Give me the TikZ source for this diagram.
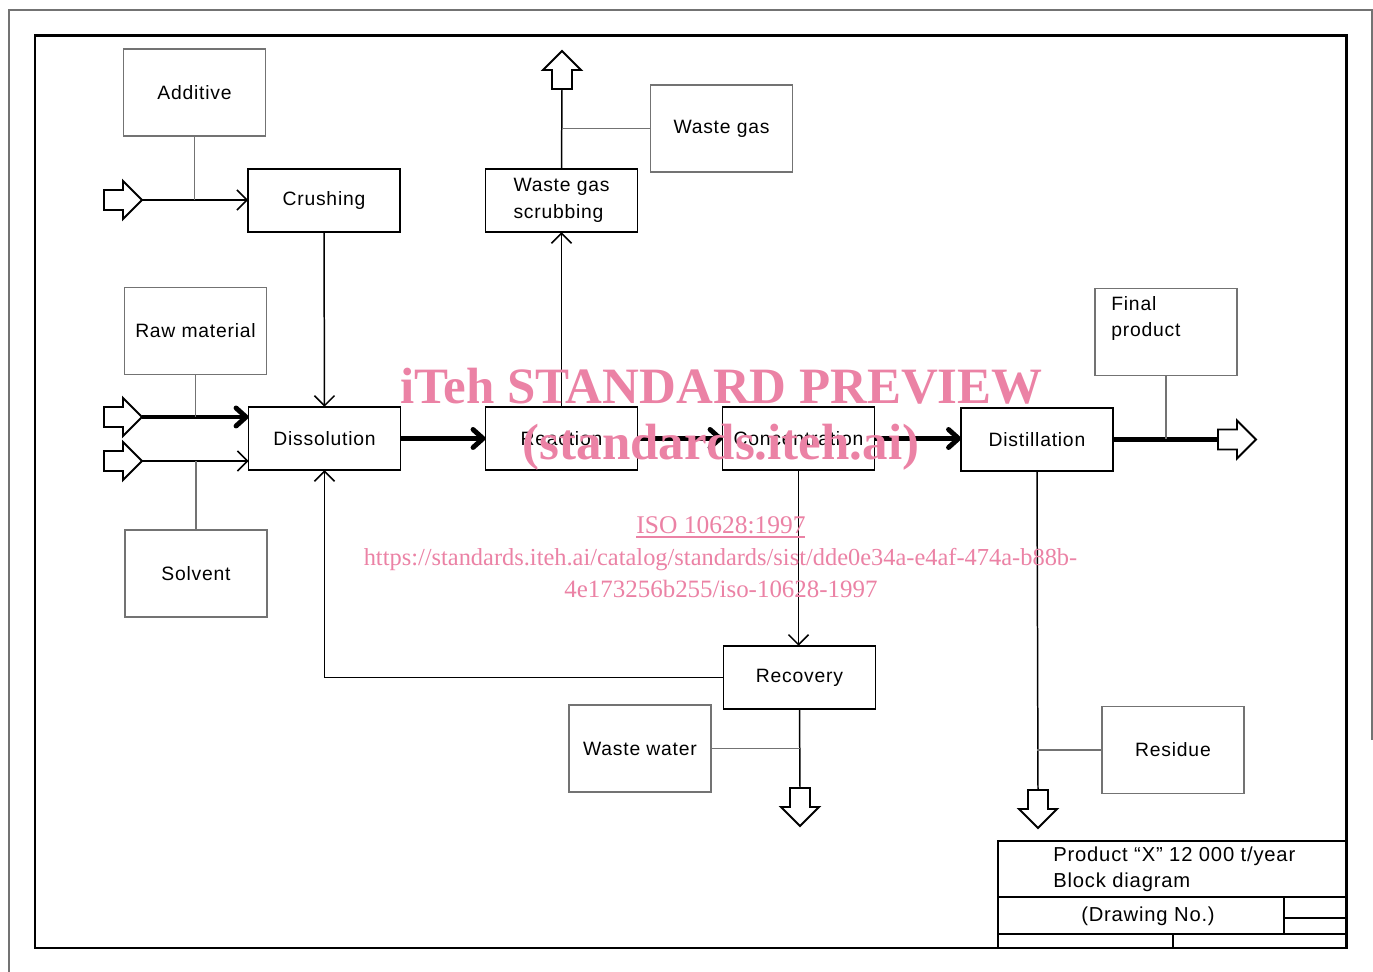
\documentclass[tikz,border=0pt]{standalone}
\usepackage{fontspec}
\setmainfont{Liberation Sans}
\newfontfamily\isof[LetterSpace=4]{Liberation Sans}
\newfontfamily\wmf{Liberation Serif}
\usetikzlibrary{arrows.meta}
\definecolor{wmpink}{RGB}{235,130,165}
\tikzset{
  pbox/.style={draw=black, line width=1.1pt, minimum width=3.04cm, minimum height=1.27cm, inner sep=0pt, outer sep=0pt, font=\isof\fontsize{11}{15}\selectfont},
  lbox/.style={draw=black!55, line width=0.6pt, minimum width=2.84cm, minimum height=1.74cm, inner sep=0pt, outer sep=0pt, font=\isof\fontsize{11}{15}\selectfont},
  txt/.style={inner sep=0pt, font=\isof\fontsize{11}{15}\selectfont},
  thinln/.style={line width=0.85pt},
  grayln/.style={draw=black!55, line width=0.6pt},
  thickln/.style={line width=2.8pt},
  arr/.style={-{Straight Barb[length=2mm, width=4mm]}},
  arrT/.style={-{Straight Barb[length=2mm, width=3.6mm, line cap=round, line join=round]}},
  blockarr/.pic={\draw[line width=1.1pt, line join=miter] (0,-10) -- (19,-10) -- (19,-19) -- (38,0) -- (19,19) -- (19,10) -- (0,10) -- cycle;},
  wm/.style={text=wmpink, inner sep=0pt}
}
\begin{document}
\begin{tikzpicture}[x=0.02cm, y=-0.02cm]
\useasboundingbox (0,0) rectangle (1373,972);
% frames
\draw[black!55, line width=0.6pt] (9,972) -- (9,10) -- (1372,10) -- (1372,740);
\draw[line width=1.7pt] (35,36) rectangle (1346,948);
% title block
\draw[line width=1.3pt] (998,948) -- (998,841) -- (1346,841);
\draw[line width=0.8pt] (998,897) -- (1346,897);
\draw[line width=0.8pt] (998,934) -- (1346,934);
\draw[line width=0.8pt] (1284,897) -- (1284,934);
\draw[line width=0.6pt] (1284,918) -- (1346,918);
\draw[line width=0.8pt] (1173,934) -- (1173,948);
\node[txt, anchor=base west, font=\isof\fontsize{11.5}{15}\selectfont] (tb1) at (1053,862) {Product “X” 12 000 t/year};
\node[txt, anchor=base west, font=\isof\fontsize{11.5}{15}\selectfont] (tb2) at (1053,888) {Block diagram};
\node[txt, anchor=base, font=\isof\fontsize{11.5}{15}\selectfont] (tb3) at (1148,921) {(Drawing No.)};
% process boxes
\node[pbox] (crush) at (324,200.5) {Crushing};
\node[pbox] (diss) at (324.5,438.5) {Dissolution};
\node[pbox, align=left] (scrub) at (561.5,200.5) {Waste gas\\scrubbing};
\node[pbox] (react) at (561.5,438.5) {Reaction};
\node[pbox] (conc) at (798.5,438.5) {Concentration};
\node[pbox] (dist) at (1037,439.5) {Distillation};
\node[pbox] (recov) at (799.5,677.5) {Recovery};
% label boxes
\node[lbox] (additive) at (194.5,92.5) {Additive};
\node[lbox] (raw) at (195.5,331) {Raw material};
\node[lbox] (solvent) at (196,573.5) {Solvent};
\node[lbox] (wastegas) at (721.5,128.5) {Waste gas};
\node[lbox] (final) at (1166,332) {};
\node[txt, anchor=north west, align=left] (finaltxt) at (1111,296) {Final\\product};
\node[lbox] (wwater) at (640,748.5) {Waste water};
\node[lbox] (residue) at (1173,750) {Residue};
% block arrows
\coordinate (in1) at (104,200);
\coordinate (in1tip) at (142,200);
\coordinate (in2) at (104,417);
\coordinate (in2tip) at (142,417);
\coordinate (in3) at (104,461);
\coordinate (in3tip) at (142,461);
\coordinate (uparr) at (562,89);
\coordinate (outarr) at (1218,439.5);
\coordinate (down1) at (800,788);
\coordinate (down2) at (1038,790);
\pic at (in1) {blockarr};
\pic at (in2) {blockarr};
\pic at (in3) {blockarr};
\pic[rotate=90] at (uparr) {blockarr};
\pic at (outarr) {blockarr};
\pic[rotate=-90] at (down1) {blockarr};
\pic[rotate=-90] at (down2) {blockarr};
% connectors
\draw[thinln, arr] (in1tip) -- (in1tip -| crush.west);
\draw[grayln] (additive.south) -- (additive.south |- in1tip);
\draw[thinln, arr] (crush.south) -- (diss.north);
\draw[thickln, arrT] (in2tip) -- (in2tip -| diss.west);
\draw[grayln] (raw.south) -- (raw.south |- in2tip);
\draw[thinln, arr] (in3tip) -- (in3tip -| diss.west);
\draw[grayln] (solvent.north) -- (solvent.north |- in3tip);
\draw[thickln, arrT] (diss.east) -- (react.west);
\draw[thickln, arrT] (react.east) -- (conc.west);
\draw[thickln, arrT] (conc.east) -- (conc.east -| dist.west);
\draw[thickln] (dist.east) -- (outarr);
\draw[grayln] (final.south) -- (final.south |- outarr);
\draw[thinln, arr] (react.north) -- (scrub.south);
\draw[thinln] (scrub.north) -- (uparr);
\draw[grayln] (wastegas.west) -- (wastegas.west -| scrub.north);
\draw[thinln, arr] (conc.south) -- (conc.south |- recov.north);
\draw[thinln, arr] (recov.west) -| (diss.south);
\draw[thinln] (recov.south) -- (down1);
\draw[grayln] (wwater.east) -- (wwater.east -| recov.south);
\draw[thinln] (dist.south) -- (down2);
\draw[grayln] (residue.west) -- (residue.west -| dist.south);
% watermark
\node[wm, anchor=base, font=\wmf\bfseries\fontsize{29}{33}\selectfont] (wm1) at (721.5,404) {iTeh STANDARD PREVIEW};
\node[wm, anchor=base, font=\wmf\bfseries\fontsize{29}{33}\selectfont] (wm2) at (721,460) {(standards.iteh.ai)};
\node[wm, anchor=base, font=\wmf\fontsize{14.5}{16}\selectfont] (wm3) at (721,534) {ISO 10628:1997};
\draw[wmpink, line width=0.6pt] (wm3.base west) ++(0,3) -- ++(169,0);
\node[wm, anchor=base, font=\wmf\fontsize{13.9}{16}\selectfont] (wm4) at (720.5,566) {https://standards.iteh.ai/catalog/standards/sist/dde0e34a-e4af-474a-b88b-};
\node[wm, anchor=base, font=\wmf\fontsize{14.2}{16}\selectfont] (wm5) at (721,598) {4e173256b255/iso-10628-1997};
\end{tikzpicture}
\end{document}
